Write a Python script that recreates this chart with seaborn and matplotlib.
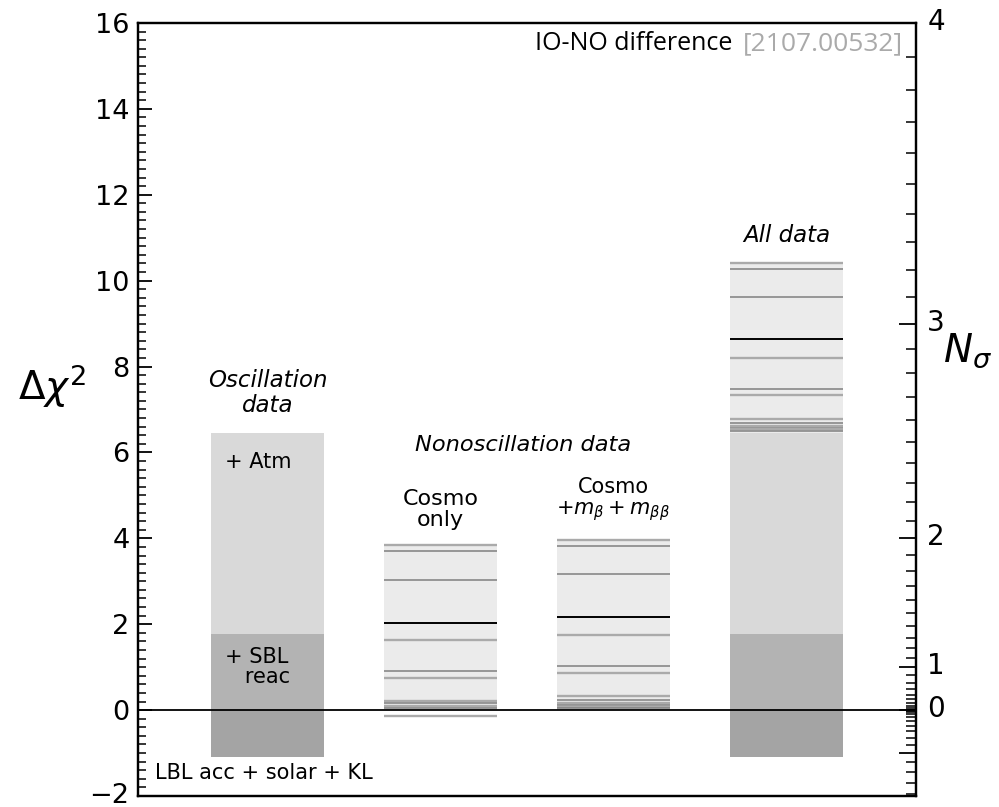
import numpy as np
import pandas as pd
import matplotlib
matplotlib.use("Agg")
import matplotlib.pyplot as plt
import matplotlib.transforms as mtransforms
import seaborn as sns

sns.set_style("ticks")
plt.rcParams["font.family"] = ["DejaVu Sans"]
plt.rcParams["mathtext.fontset"] = "dejavusans"
for key in ["text.color", "axes.labelcolor", "xtick.color", "ytick.color", "axes.edgecolor"]:
    plt.rcParams[key] = "black"

# ---------------- data ----------------
categories = ["Oscillation data", "Cosmo only", "Cosmo + mb + mbb", "All data"]
lbl_acc_solar_kl = [-1.10, np.nan, np.nan, -1.10]
sbl_reac = [1.77, np.nan, np.nan, 1.77]
atm = [6.45, np.nan, np.nan, 6.46]
nonosc_top = [np.nan, 3.85, 3.96, 10.42]

cosmo_only_lines = [3.84, 3.70, 3.04, 2.04, 1.63, 0.90, 0.75, 0.22, 0.16, 0.10, 0.05, -0.13]
cosmo_mass_lines = [3.96, 3.82, 3.16, 2.16, 1.75, 1.02, 0.87, 0.33, 0.23, 0.16, 0.12, 0.08, 0.04]
all_data_lines = [10.42, 10.27, 9.62, 8.63, 8.20, 7.48, 7.34, 6.78, 6.68, 6.62, 6.58, 6.54, 6.50]

left_ticks = [-2, 0, 2, 4, 6, 8, 10, 12, 14, 16]
nsigma_major = [-1, 0, 1, 2, 3, 4]
nsigma_labels = ["", "0", "1", "2", "3", "4"]

# ---------------- styles ----------------
cosmo_only_styles = ["l", "d", "d", "k", "l", "d", "l", "l", "d", "l", "d", "l"]
mass_styles = ["l", "d", "d", "k", "l", "d", "l", "l", "d", "l", "d", "l", "d"]
line_style = {"l": dict(color="#aaaaaa", lw=1.7),
              "d": dict(color="#7f7f7f", lw=1.1),
              "k": dict(color="black", lw=1.4)}

fig = plt.figure(figsize=(9.99, 8.07), dpi=100)
ax = fig.add_axes([0.138, 0.0136, 0.779, 0.958])

width = 0.65
layers = [(nonosc_top, "#ebebeb"), (atm, "#d9d9d9"), (sbl_reac, "#b3b3b3"),
          (lbl_acc_solar_kl, "#a4a4a4")]
for vals, col in layers:
    df = pd.DataFrame({"cat": categories, "val": vals}).dropna()
    sns.barplot(data=df, x="cat", y="val", order=categories, color=col,
                saturation=1, width=width, linewidth=0, ax=ax, errorbar=None)

for xc, lines, styles in [(1, cosmo_only_lines, cosmo_only_styles),
                          (2, cosmo_mass_lines, mass_styles),
                          (3, all_data_lines, mass_styles)]:
    for yv, st in zip(lines, styles):
        ax.hlines(yv, xc - width / 2, xc + width / 2, zorder=3, **line_style[st])

ax.axhline(0, color="black", lw=1.3, zorder=4)

ax.set_xlim(-0.75, 3.75)
ax.set_ylim(-2, 16)
ax.set_xticks([])
ax.set_xlabel("")
ax.set_ylabel("")
ax.set_yticks(left_ticks)
ax.set_yticklabels(["\u22122"] + [str(t) for t in left_ticks[1:]])
ax.set_yticks(np.arange(-2, 16.01, 0.2), minor=True)
ax.tick_params(axis="y", which="major", direction="in", length=10, width=1.3,
               labelsize=19.5, pad=6)
ax.tick_params(axis="y", which="minor", direction="in", length=6, width=1.1)
for s in ax.spines.values():
    s.set_linewidth(1.6)
    s.set_color("black")
lowlab = ax.get_yticklabels()[0]
lowlab.set_transform(lowlab.get_transform() +
                     mtransforms.ScaledTranslation(0, 3 / 100, fig.dpi_scale_trans))

# right axis: N_sigma = sign * sqrt(|dchi2|)
ax2 = ax.twinx()
ax2.set_ylim(-2, 16)
maj = [np.sign(n) * n * n for n in nsigma_major]
ax2.set_yticks(maj)
ax2.set_yticklabels(nsigma_labels)
nmin = np.round(np.arange(-1.4, 3.95, 0.1), 2)
nmin = [n for n in nmin if abs(n - round(n)) > 1e-6]
ax2.set_yticks([np.sign(n) * n * n for n in nmin], minor=True)
ax2.tick_params(axis="y", which="major", direction="in", length=12, width=1.3,
                labelsize=20, pad=8)
ax2.tick_params(axis="y", which="minor", direction="in", length=7, width=1.1)
for s in ax2.spines.values():
    s.set_linewidth(1.6)
    s.set_color("black")
shift = mtransforms.ScaledTranslation(0, 4 / 100, fig.dpi_scale_trans)
for lab in ax2.get_yticklabels():
    lab.set_transform(lab.get_transform() + shift)

fig.text(0.052, 0.522, r"$\Delta\chi^2$", fontsize=28, ha="center", va="center")
fig.text(0.968, 0.565, r"$N_\sigma$", fontsize=28, ha="center", va="center")

# texts
ax.text(2.69, 15.52, "IO-NO difference", fontsize=18, ha="right", va="center",
        family=["Open Sans", "DejaVu Sans"])
ax.text(3.675, 15.52, "[2107.00532]", fontsize=19, ha="right", va="center",
        color="#aaaaaa", family=["Open Sans", "DejaVu Sans"])
ax.text(3.0, 11.04, "All data", fontsize=16.5, style="italic", ha="center", va="center")
ax.text(0.0, 7.38, "Oscillation\ndata", fontsize=16.5, style="italic", ha="center",
        va="center", linespacing=1.1)
ax.text(1.48, 6.17, "Nonoscillation data", fontsize=16.2, style="italic",
        ha="center", va="center")
ax.text(1.0, 4.68, "Cosmo\nonly", fontsize=16, ha="center", va="center",
        linespacing=1.05)
ax.text(2.0, 4.89, "Cosmo\n$+m_\\beta+m_{\\beta\\beta}$", fontsize=15, ha="center",
        va="center", linespacing=1.05)
ax.text(-0.247, 5.78, "+ Atm", fontsize=15, ha="left", va="center")
ax.text(-0.247, 1.0, "+ SBL\n   reac", fontsize=15, ha="left", va="center",
        linespacing=1.0)
ax.text(-0.02, -1.47, "LBL acc + solar + KL", fontsize=15, ha="center", va="center")

fig.savefig("out.png", dpi=100)
